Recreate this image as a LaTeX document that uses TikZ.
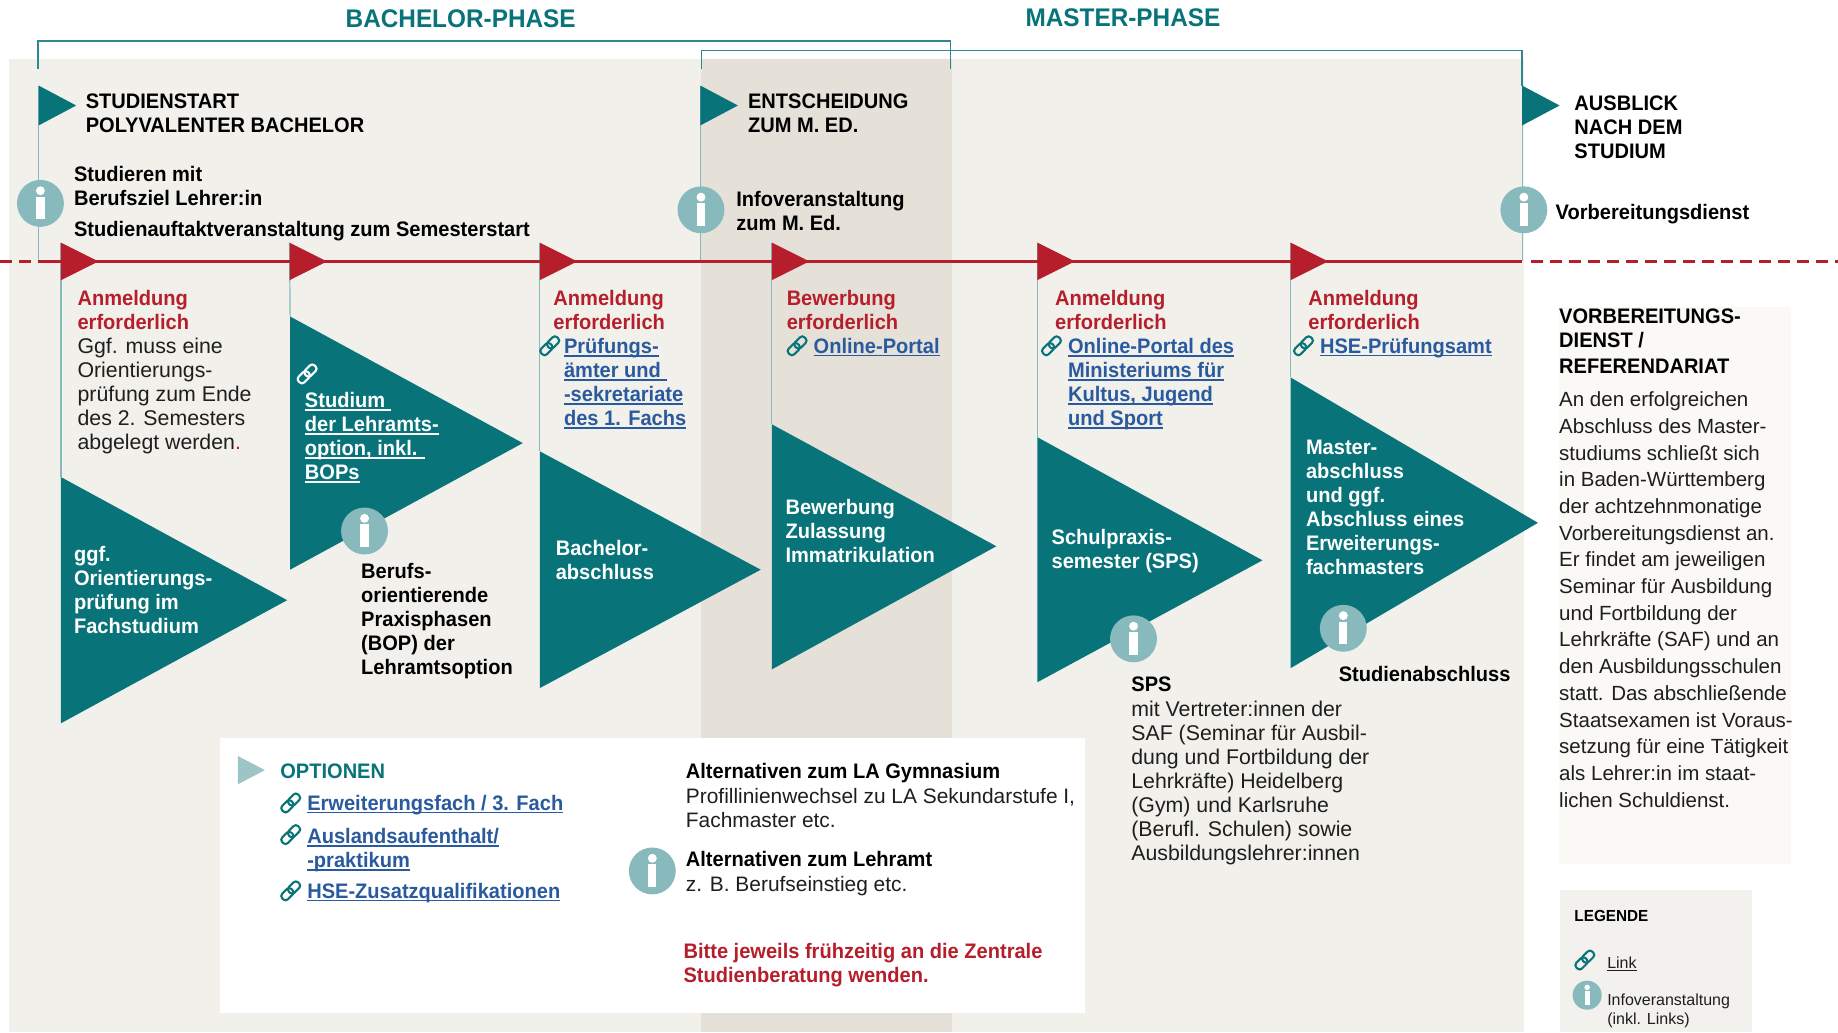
\documentclass[tikz,border=0pt]{standalone}
\usepackage{fontspec}
\setmainfont[BoldFeatures={FakeStretch=0.955}]{Liberation Sans}
\definecolor{cteal}{HTML}{08747A}
\definecolor{cinfo}{HTML}{88BABD}
\definecolor{cbg}{HTML}{F1F0EB}
\definecolor{cdark}{HTML}{E5E1D9}
\definecolor{cred}{HTML}{B51E2A}
\definecolor{clink}{HTML}{2A5A9E}
\definecolor{cpanel}{HTML}{FAF9F6}
\definecolor{clegend}{HTML}{F2F1ED}
\definecolor{cbody}{HTML}{1E1E1E}
\newcommand\lnk[1]{\setbox0\hbox{#1}\rlap{\rule[-3pt]{\wd0}{1.3pt}}\box0}
\tikzset{
  txt/.style={anchor=north west,inner sep=0pt,align=left,yshift=14.5pt,
    font=\fontsize{21.3}{24}\selectfont,execute at begin node=\strut,text=cbody},
  one/.style={yshift=2.3pt},
  bold/.style={font=\fontsize{21}{24}\selectfont\bfseries,text=black},
  redb/.style={font=\fontsize{21}{24}\selectfont\bfseries,text=cred},
  whiteb/.style={font=\fontsize{21}{24}\selectfont\bfseries,text=white},
  linkb/.style={font=\fontsize{21}{24}\selectfont\bfseries,text=clink},
  tealb/.style={font=\fontsize{21}{24}\selectfont\bfseries,text=cteal},
  panelt/.style={font=\fontsize{20.5}{26.7}\selectfont,text=cbody,yshift=1.82pt},
  legt/.style={font=\fontsize{16}{19}\selectfont,text=cbody,yshift=-3.5pt},
  legb/.style={font=\fontsize{16}{19}\selectfont\bfseries,text=black,yshift=-3.5pt},
  phase/.style={inner sep=0pt,font=\fontsize{25.5}{30}\selectfont\bfseries,text=cteal},
  vline/.style={draw=cinfo,line width=1.2pt},
  bracket/.style={draw=cteal!70!cinfo,line width=1.3pt},
  redline/.style={draw=cred,line width=2.6pt},
  infoicon/.pic={
    \fill[cinfo] (0,0) circle (20);
    \fill[white] (0,-10.8) circle (3.8);
    \fill[white] (-3.5,-5.7) rectangle (3.5,13.7);},
  linkicon/.pic={
    \begin{scope}[rotate=45,line width=2.1pt,rounded corners=3.2]
      \draw[pic actions] (-9.6,-3.4) rectangle (1.6,3.4);
      \draw[pic actions] (-1.6,-3.4) rectangle (9.6,3.4);
    \end{scope}}
}
\begin{document}
\begin{tikzpicture}[x=1.1722pt,y=-1.1722pt]
\useasboundingbox (0,0) rectangle (1568,880.4);
% backgrounds
\fill[cbg] (8,50) rectangle (1300,880.4);
\fill[cdark] (598,50) rectangle (812,880.4);
\fill[cpanel] (1330,262) rectangle (1528,737);
\fill[clegend] (1331,759) rectangle (1495,880.4);
\fill[white] (188,629.5) rectangle (925.5,864);
% named points
\coordinate (h1) at (33,73); \coordinate (h2) at (597.5,73); \coordinate (h3) at (1298.5,73);
\coordinate (p1) at (33,223); \coordinate (p2) at (597.5,223); \coordinate (p3) at (1298.5,223);
\coordinate (rl) at (0,223); \coordinate (rr) at (1568,223);
\coordinate (r1) at (52,207); \coordinate (r2) at (247,207); \coordinate (r3) at (460.5,207);
\coordinate (r4) at (658.5,207); \coordinate (r5) at (885,207); \coordinate (r6) at (1101,207);
\coordinate (b1) at (52,407); \coordinate (b2) at (247.5,270); \coordinate (b3) at (460.5,385);
\coordinate (b4) at (658.5,362); \coordinate (b5) at (885,373); \coordinate (b6) at (1101,322);
% brackets
\draw[bracket] (32.5,59) |- (811,35) -- (811,59);
\draw[bracket] (598.5,59) |- (1298.5,43) -- (h3);
\draw[vline] (h1) -- (p1);
\draw[vline] (h2) -- (p2);
\draw[vline] (h3) -- (p3);
\draw[vline] (r1) -- (b1);
\draw[vline] (r2) -- (b2);
\draw[vline] (r3) -- (b3);
\draw[vline] (r4) -- (b4);
\draw[vline] (r5) -- (b5);
\draw[vline] (r6) -- (b6);
% red line
\draw[redline,dash pattern=on 12pt off 7pt] (rl) -- (p1);
\draw[redline] (p1) -- (p3);
\draw[redline,dash pattern=on 12pt off 7pt] (p3) ++(8,0) -- (rr);
% header triangles
\fill[cteal] (h1) -- ++(32,17) -- ++(-32,17) -- cycle;
\fill[cteal] (h2) -- ++(32,17) -- ++(-32,17) -- cycle;
\fill[cteal] (h3) -- ++(32,17) -- ++(-32,17) -- cycle;
% red triangles
\foreach \r in {r1,r2,r3,r4,r5,r6}{\fill[cred] (\r) -- ++(32,16) -- ++(-32,16) -- cycle;}
% large triangles
\fill[cteal] (b1) -- (245,512) -- (52,617) -- cycle;
\fill[cteal] (b2) -- (446,378) -- (247.5,486) -- cycle;
\fill[cteal] (b3) -- (649,486) -- (460.5,587) -- cycle;
\fill[cteal] (b4) -- (850,466) -- (658.5,571) -- cycle;
\fill[cteal] (b5) -- (1077,478) -- (885,582) -- cycle;
\fill[cteal] (b6) -- (1312,446) -- (1101,570) -- cycle;
\fill[cinfo!80!cbg] (203,645) -- (226,657) -- (203,669) -- cycle;
% phases
\node[phase] (tb) at (393,16) {BACHELOR-PHASE};
\node[phase] (tm) at (958,15) {MASTER-PHASE};
% info icons
\pic at (34.5,173.5) {infoicon};
\pic at (598,179) {infoicon};
\pic at (1300,179) {infoicon};
\pic at (311,453) {infoicon};
\pic at (967,545) {infoicon};
\pic at (1146,536) {infoicon};
\pic at (556.5,743) {infoicon};
\pic[scale=.62] at (1354,849) {infoicon};
% link icons
\pic[draw=white] at (262,319) {linkicon};
\pic[draw=cteal] at (469,295) {linkicon};
\pic[draw=cteal] at (680,295) {linkicon};
\pic[draw=cteal] at (897,295) {linkicon};
\pic[draw=cteal] at (1112,295) {linkicon};
\pic[draw=cteal] at (248,685) {linkicon};
\pic[draw=cteal] at (248,712) {linkicon};
\pic[draw=cteal] at (248,760) {linkicon};
\pic[draw=cteal] at (1352,819) {linkicon};
% headings
\node[txt,bold] (t1) at (73,92) {STUDIENSTART\\POLYVALENTER BACHELOR};
\node[txt,bold] (t2) at (63,154) {Studieren mit\\Berufsziel Lehrer:in};
\node[txt,bold,one] (t3) at (63,202) {Studienauftaktveranstaltung zum Semesterstart};
\node[txt,bold] (t4) at (638,92) {ENTSCHEIDUNG\\ZUM M. ED.};
\node[txt,bold] (t5) at (628,175) {Infoveranstaltung\\zum M. Ed.};
\node[txt,bold] (t6) at (1343,94) {AUSBLICK\\NACH DEM\\STUDIUM};
\node[txt,bold,one] (t7) at (1327,187) {Vorbereitungsdienst};
% column 1
\node[txt,redb] (a1) at (66,260) {Anmeldung\\erforderlich};
\node[txt] (a1b) at (66,301) {Ggf. muss eine\\Orientierungs-\\prüfung zum Ende\\des 2. Semesters\\abgelegt werden{\color{cred}.}};
\node[txt,whiteb] (w1) at (63,478) {ggf.\\Orientierungs-\\prüfung im\\Fachstudium};
% column 2
\node[txt,whiteb] (w2) at (260,347) {\lnk{Studium }\\\lnk{der Lehramts-}\\\lnk{option, inkl. }\\\lnk{BOPs}};
\node[txt,bold] (b2t) at (308,493) {Berufs-\\orientierende\\Praxisphasen\\(BOP) der\\Lehramtsoption};
% column 3
\node[txt,redb] (a3) at (472,260) {Anmeldung\\erforderlich};
\node[txt,linkb] (l3) at (481,301) {\lnk{Prüfungs-}\\\lnk{ämter und }\\\lnk{-sekretariate}\\\lnk{des 1. Fachs}};
\node[txt,whiteb] (w3) at (474,473) {Bachelor-\\abschluss};
% column 4
\node[txt,redb] (a4) at (671,260) {Bewerbung\\erforderlich};
\node[txt,linkb,one] (l4) at (694,301) {\lnk{Online-Portal}};
\node[txt,whiteb] (w4) at (670,438) {Bewerbung\\Zulassung\\Immatrikulation};
% column 5
\node[txt,redb] (a5) at (900,260) {Anmeldung\\erforderlich};
\node[txt,linkb] (l5) at (911,301) {\lnk{Online-Portal des}\\\lnk{Ministeriums für}\\\lnk{Kultus, Jugend}\\\lnk{und Sport}};
\node[txt,whiteb] (w5) at (897,464) {Schulpraxis-\\semester (SPS)};
\node[txt,bold,one] (s5) at (965,590) {SPS};
\node[txt] (s5b) at (965,610) {mit Vertreter:innen der\\SAF (Seminar für Ausbil-\\dung und Fortbildung der\\Lehrkräfte) Heidelberg\\(Gym) und Karlsruhe\\(Berufl. Schulen) sowie\\Ausbildungslehrer:innen};
% column 6
\node[txt,redb] (a6) at (1116,260) {Anmeldung\\erforderlich};
\node[txt,linkb,one] (l6) at (1126,301) {\lnk{HSE-Prüfungsamt}};
\node[txt,whiteb] (w6) at (1114,388) {Master-\\abschluss\\und ggf.\\Abschluss eines\\Erweiterungs-\\fachmasters};
\node[txt,bold,one] (s6) at (1142,581) {Studienabschluss};
% right panel
\node[txt,bold] (p1t) at (1330,276) {VORBEREITUNGS-\\DIENST /};
\node[txt,bold,one] (p1u) at (1330,318.5) {REFERENDARIAT};
\node[txt,panelt] (p2t) at (1330,348) {An den erfolgreichen\\Abschluss des Master-\\studiums schließt sich\\in Baden-Württemberg\\der achtzehnmonatige\\Vorbereitungsdienst an.\\Er findet am jeweiligen\\Seminar für Ausbildung\\und Fortbildung der\\Lehrkräfte (SAF) und an\\den Ausbildungsschulen\\statt. Das abschließende\\Staatsexamen ist Voraus-\\setzung für eine Tätigkeit\\als Lehrer:in im staat-\\lichen Schuldienst.};
% options
\node[txt,tealb,one] (o0) at (239,664) {OPTIONEN};
\node[txt,linkb,one] (o1) at (262,691) {\lnk{Erweiterungsfach / 3. Fach}};
\node[txt,linkb] (o2) at (262,719) {\lnk{Auslandsaufenthalt/}\\\lnk{-praktikum}};
\node[txt,linkb,one] (o3) at (262,766) {\lnk{HSE-Zusatzqualifikationen}};
\node[txt,bold,one] (n1) at (585,664) {Alternativen zum LA Gymnasium};
\node[txt,font=\fontsize{20.9}{24}\selectfont] (n2) at (585,685) {Profillinienwechsel zu LA Sekundarstufe I,\\Fachmaster etc.};
\node[txt,bold,one] (n3) at (585,739) {Alternativen zum Lehramt};
\node[txt,one,font=\fontsize{20.9}{24}\selectfont] (n4) at (585,760) {z. B. Berufseinstieg etc.};
\node[txt,redb] (n5) at (583,816.5) {Bitte jeweils frühzeitig an die Zentrale\\Studienberatung wenden.};
% legend
\node[txt,legb,one] (g0) at (1343,786) {LEGENDE};
\node[txt,legt,one] (g1) at (1371,826) {\lnk{Link}};
\node[txt,legt] (g2) at (1371,857) {Infoveranstaltung\\(inkl. Links)};
\end{tikzpicture}
\end{document}
